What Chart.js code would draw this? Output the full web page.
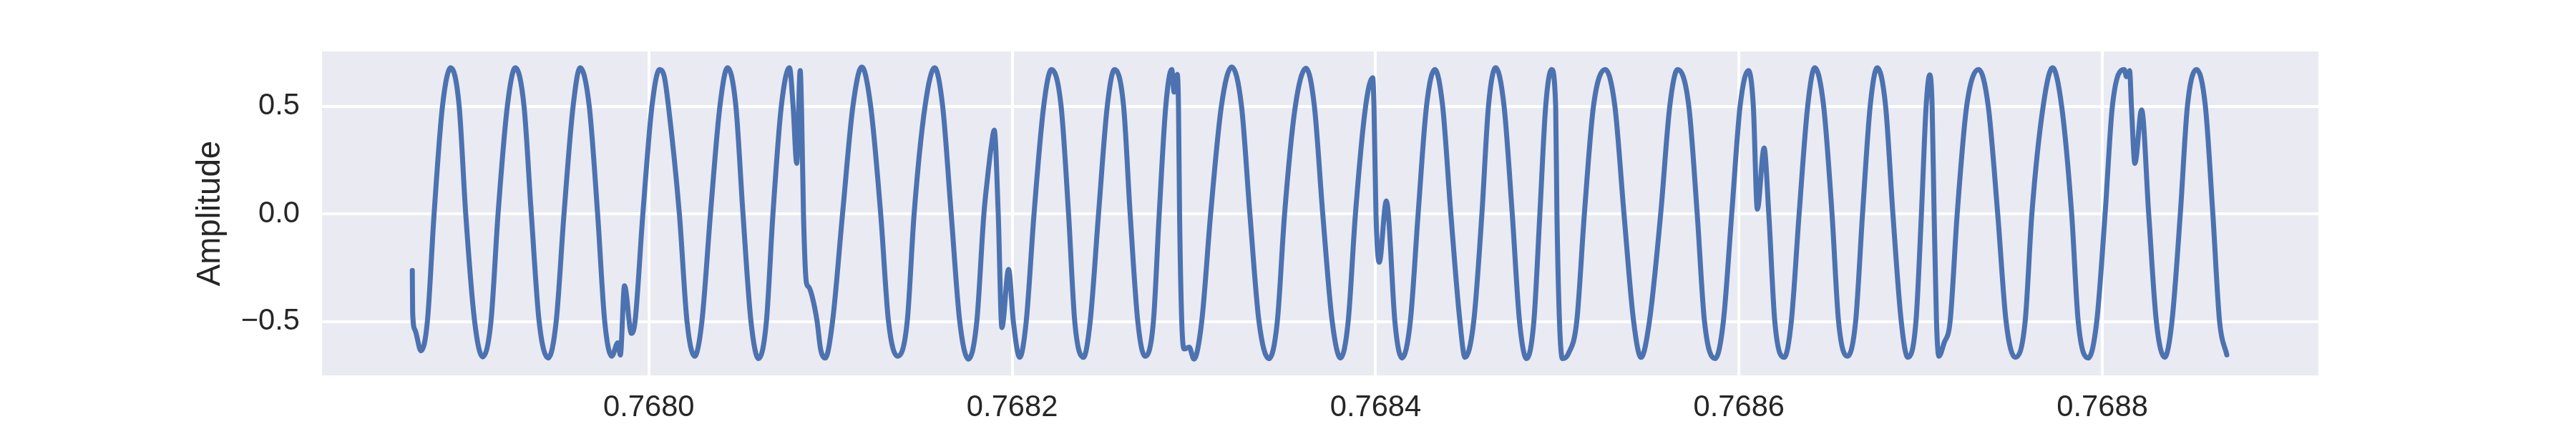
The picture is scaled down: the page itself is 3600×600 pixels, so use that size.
<!DOCTYPE html>
<html>
<head>
<meta charset="utf-8">
<style>
html,body{margin:0;padding:0;background:#ffffff;}
canvas{display:block;}
</style>
<script src="https://cdn.jsdelivr.net/npm/chart.js@4.4.1/dist/chart.umd.min.js"></script>
</head>
<body>
<canvas id="c" width="3600" height="600"></canvas>
<script>
// Time origin (seconds) and sample times in microseconds after it
const timeOriginS = 0.7678;
const timeUs = [
  69.8, 70.0, 71.3, 74.6, 78.1, 81.8, 86.4, 91.0, 95.6, 99.2,
  104.1, 108.5, 113.1, 117.0, 122.1, 126.5, 131.3, 135.3, 139.6, 144.6,
  149.0, 153.3, 158.3, 162.2, 167.2, 171.8, 175.7, 179.6, 182.9, 184.3,
  186.6, 190.4, 192.4, 196.7, 201.7, 205.9, 208.5, 210.8, 216.8, 221.0,
  225.2, 229.2, 233.9, 239.1, 243.3, 247.9, 251.8, 256.2, 260.4, 264.7,
  268.3, 272.9, 277.4, 279.4, 281.4, 283.3, 284.0, 285.1, 286.7, 288.0,
  289.9, 292.6, 294.5, 297.1, 301.1, 306.6, 312.3, 317.2, 322.1, 327.6,
  331.9, 336.9, 342.2, 346.0, 352.0, 357.3, 361.7, 366.4, 371.1, 375.9,
  380.5, 384.4, 386.4, 388.4, 390.1, 392.3, 394.3, 398.0, 400.6, 404.1,
  407.7, 412.0, 417.3, 421.6, 426.9, 431.0, 434.4, 439.2, 442.9, 447.5,
  452.3, 456.3, 461.3, 464.9, 469.1, 473.1, 477.7, 480.9, 484.5, 487.8,
  489.1, 490.8, 491.5, 492.1, 493.3, 494.7, 497.4, 500.0, 504.3, 509.2,
  515.1, 520.8, 526.2, 530.8, 535.8, 541.3, 545.9, 549.9, 555.8, 561.7,
  566.3, 570.9, 576.1, 580.7, 584.9, 588.9, 594.5, 598.4, 599.1, 600.2,
  602.0, 605.9, 607.0, 610.6, 614.6, 619.1, 623.4, 628.0, 632.6, 636.9,
  641.4, 646.4, 649.2, 654.0, 658.5, 662.1, 666.1, 670.7, 675.2, 679.2,
  683.1, 687.1, 690.4, 693.6, 696.9, 699.1, 699.8, 701.2, 702.8, 706.1,
  710.7, 714.9, 719.9, 726.4, 731.7, 736.7, 742.0, 746.1, 750.7, 756.9,
  761.9, 766.2, 772.4, 777.0, 781.0, 786.9, 791.4, 796.0, 800.6, 805.2,
  807.9, 810.1, 813.8, 816.4, 819.7, 824.9, 828.8, 833.1, 837.8, 841.7,
  846.6, 851.2, 854.8, 859.7, 864.2, 868.0, 872.2, 876.1, 880.7, 884.7,
  889.3, 892.9, 897.4, 900.4, 903.0, 905.0, 906.3, 907.4, 908.7, 910.0,
  912.9, 916.2, 920.1, 925.3, 931.9, 937.2, 942.4, 947.0, 952.0, 957.5,
  961.2, 967.4, 972.6, 977.6, 983.1, 986.7, 992.3, 996.9, 1001.5, 1005.5,
  1012.0, 1013.3, 1015.0, 1016.0, 1017.9, 1021.6, 1025.5, 1029.7, 1034.3, 1038.3,
  1042.9, 1046.8, 1051.8, 1056.7, 1060.8, 1064.5, 1068.5
];
const amplitude = [
  -0.263, -0.46, -0.54, -0.637, -0.5, 0, 0.5, 0.679, 0.5, 0,
  -0.5, -0.665, -0.5, 0, 0.5, 0.679, 0.5, 0, -0.5, -0.670,
  -0.5, 0, 0.5, 0.679, 0.5, 0, -0.5, -0.662, -0.60, -0.656,
  -0.335, -0.556, -0.5, 0, 0.5, 0.671, 0.638, 0.5, 0, -0.5,
  -0.662, -0.5, 0, 0.5, 0.679, 0.5, 0, -0.5, -0.673, -0.5,
  0, 0.5, 0.679, 0.5, 0.235, 0.666, 0.5, 0, -0.319, -0.34,
  -0.385, -0.5, -0.628, -0.670, -0.5, 0, 0.5, 0.683, 0.5, 0,
  -0.5, -0.662, -0.5, 0, 0.5, 0.679, 0.5, 0, -0.5, -0.675,
  -0.5, 0, 0.168, 0.31, 0.389, 0, -0.529, -0.258, -0.5, -0.667,
  -0.5, 0, 0.5, 0.671, 0.5, 0, -0.5, -0.667, -0.5, 0,
  0.5, 0.671, 0.5, 0, -0.5, -0.662, -0.5, 0, 0.5, 0.671,
  0.566, 0.649, 0.5, 0, -0.5, -0.628, -0.62, -0.675, -0.5, 0,
  0.5, 0.683, 0.5, 0, -0.5, -0.673, -0.5, 0, 0.5, 0.677,
  0.5, 0, -0.5, -0.670, -0.5, 0, 0.5, 0.633, 0.5, 0,
  -0.225, 0.06, 0, -0.5, -0.670, -0.5, 0, 0.5, 0.671, 0.5,
  0, -0.5, -0.667, -0.5, 0, 0.5, 0.679, 0.5, 0, -0.5,
  -0.673, -0.5, 0, 0.5, 0.671, 0.5, 0, -0.5, -0.673, -0.65,
  -0.5, 0, 0.5, 0.671, 0.5, 0, -0.5, -0.667, -0.5, 0,
  0.5, 0.671, 0.5, 0, -0.5, -0.673, -0.5, 0, 0.5, 0.666,
  0.5, 0.022, 0.306, 0, -0.5, -0.667, -0.5, 0, 0.5, 0.679,
  0.5, 0, -0.5, -0.662, -0.5, 0, 0.5, 0.679, 0.5, 0,
  -0.5, -0.667, -0.5, 0, 0.5, 0.646, 0.5, 0, -0.5, -0.662,
  -0.60, -0.5, 0, 0.5, 0.671, 0.5, 0, -0.5, -0.667, -0.5,
  0, 0.5, 0.679, 0.5, 0, -0.5, -0.670, -0.5, 0, 0.5,
  0.671, 0.638, 0.666, 0.5, 0.235, 0.483, 0, -0.5, -0.667, -0.5,
  0, 0.5, 0.671, 0.5, 0, -0.5, -0.656
];
const xTickValues = [0.7680, 0.7682, 0.7684, 0.7686, 0.7688];
const yTickValues = [-0.5, 0.0, 0.5];
const yAxisTitle = 'Amplitude';

const points = timeUs.map((u, i) => ({ x: timeOriginS + u * 1e-6, y: amplitude[i] }));

const bgPlugin = {
  id: 'bg',
  beforeDraw(chart) {
    const { ctx, chartArea: a } = chart;
    ctx.save();
    ctx.fillStyle = '#ffffff';
    ctx.fillRect(0, 0, chart.width, chart.height);
    ctx.fillStyle = '#EAEAF2';
    ctx.fillRect(a.left, a.top, a.right - a.left, a.bottom - a.top);
    ctx.restore();
  }
};

const textColor = '#262626';
const fontFamily = '"Liberation Sans", Arial, sans-serif';

new Chart(document.getElementById('c'), {
  type: 'line',
  data: {
    datasets: [{
      data: points,
      borderColor: '#4C72B0',
      borderWidth: 7,
      pointRadius: 0,
      fill: false,
      cubicInterpolationMode: 'monotone',
      borderCapStyle: 'round',
      borderJoinStyle: 'round'
    }]
  },
  options: {
    responsive: false,
    devicePixelRatio: 1,
    animation: false,
    events: [],
    layout: { padding: { left: 0, right: 360, top: 72, bottom: 0 } },
    plugins: { legend: { display: false }, tooltip: { enabled: false } },
    scales: {
      x: {
        type: 'linear',
        min: 0.7678201,
        max: 0.7689189,
        afterBuildTicks: (s) => { s.ticks = xTickValues.map(v => ({ value: v })); },
        afterFit: (s) => { s.height = 75; },
        grid: { color: '#ffffff', lineWidth: 4, drawTicks: false },
        border: { display: false },
        ticks: {
          autoSkip: false, maxRotation: 0, minRotation: 0, padding: 20,
          color: textColor, font: { family: fontFamily, size: 41.7 },
          callback: (v) => Number(v).toFixed(4)
        }
      },
      y: {
        type: 'linear',
        min: -0.751,
        max: 0.755,
        afterBuildTicks: (s) => { s.ticks = yTickValues.map(v => ({ value: v })); },
        afterFit: (s) => { s.width = 450; },
        grid: { color: '#ffffff', lineWidth: 4, drawTicks: false },
        border: { display: false },
        ticks: {
          padding: 31, color: textColor, font: { family: fontFamily, size: 41.7 },
          callback: (v) => (v < 0 ? '\u2212' + Math.abs(v).toFixed(1) : Number(v).toFixed(1))
        },
        title: {
          display: true, text: yAxisTitle, color: textColor,
          font: { family: fontFamily, size: 45.8, lineHeight: 1.2 },
          padding: { top: 267, bottom: 0 }
        }
      }
    }
  },
  plugins: [bgPlugin]
});
</script>
</body>
</html>
